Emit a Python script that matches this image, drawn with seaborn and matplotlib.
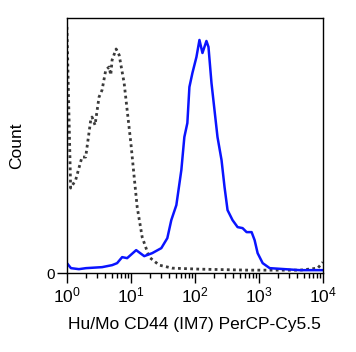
import numpy as np
import pandas as pd
import matplotlib
matplotlib.use("Agg")
import matplotlib.pyplot as plt
import seaborn as sns
from matplotlib.ticker import LogLocator, FixedLocator

# 값은 그림에서 읽은 것 (x: log10 형광값, y: count)
iso_log = [0.00, 0.058, 0.136, 0.235, 0.293, 0.372, 0.392, 0.439, 0.502, 0.549,
           0.607, 0.659, 0.685, 0.706, 0.769, 0.816, 0.894, 0.941, 0.999, 1.051,
           1.098, 1.176, 1.286, 1.443, 1.647, 2.07, 2.85, 3.64, 3.92, 4.0]
iso_count = [246, 85, 93, 116, 116, 153, 156, 148, 176, 183,
             203, 206, 198, 213, 224, 218, 190, 163, 130, 96,
             66, 36, 16, 8, 5, 4, 3, 3, 5, 11]

cd44_log = [0.00, 0.063, 0.188, 0.298, 0.549, 0.706, 0.784, 0.863, 0.941, 1.082,
            1.208, 1.333, 1.475, 1.569, 1.631, 1.710, 1.788, 1.835, 1.882, 1.914,
            1.961, 2.024, 2.071, 2.118, 2.180, 2.212, 2.259, 2.306, 2.353, 2.416,
            2.463, 2.510, 2.588, 2.667, 2.745, 2.808, 2.886, 2.933, 2.980, 3.059,
            3.169, 3.64, 4.0]
cd44_count = [10, 5, 4, 5, 6, 8, 10, 16, 15, 23,
              17, 20, 25, 35, 53, 68, 103, 136, 150, 186,
              200, 216, 233, 220, 232, 226, 190, 163, 136, 113,
              86, 63, 53, 46, 45, 41, 41, 33, 20, 10,
              5, 3, 3]

decades = [0, 1, 2, 3, 4]

iso = pd.DataFrame({"x": np.power(10.0, iso_log), "count": iso_count})
cd44 = pd.DataFrame({"x": np.power(10.0, cd44_log), "count": cd44_count})

sns.set_style("white")
plt.rcParams["font.family"] = ["Liberation Sans", "DejaVu Sans"]
plt.rcParams["mathtext.fontset"] = "custom"
plt.rcParams["mathtext.rm"] = "Liberation Sans"
plt.rcParams["mathtext.default"] = "regular"
plt.rcParams["text.color"] = "black"
plt.rcParams["axes.labelcolor"] = "black"
plt.rcParams["xtick.color"] = "black"
plt.rcParams["ytick.color"] = "black"

fig = plt.figure(figsize=(3.56, 3.52), dpi=100)
ax = fig.add_axes([0.188, 0.224, 0.719, 0.725])

sns.lineplot(data=iso, x="x", y="count", ax=ax, color="#3a3a3a",
             linestyle=(0, (1, 1.2)), linewidth=2, estimator=None, sort=False)
sns.lineplot(data=cd44, x="x", y="count", ax=ax, color="#0a14ff",
             linewidth=1.8, estimator=None, sort=False)

ax.set_xscale("log")
ax.set_xlim(1, 1e4)
ax.set_ylim(0, 255)

ax.xaxis.set_major_locator(FixedLocator([10.0 ** d for d in decades]))
ax.set_xticklabels([f"$10^{{{d}}}$" for d in decades], fontsize=12.5)
ax.xaxis.set_minor_locator(LogLocator(base=10, subs=np.arange(2, 10), numticks=20))
ax.set_yticks([0])
ax.set_yticklabels(["0"], fontsize=11)

ax.tick_params(axis="x", which="major", direction="out", length=7, width=1, bottom=True, pad=2)
ax.tick_params(axis="x", which="minor", direction="out", length=3.5, width=1, bottom=True)
ax.tick_params(axis="y", which="major", direction="out", length=7, width=1, left=True, pad=2)

for s in ax.spines.values():
    s.set_color("black")
    s.set_linewidth(1)

ax.set_xlabel("Hu/Mo CD44 (IM7) PerCP-Cy5.5", fontsize=12.5, labelpad=8)
ax.set_ylabel("Count", fontsize=12.5, labelpad=16)

fig.savefig("out.png", dpi=100)
